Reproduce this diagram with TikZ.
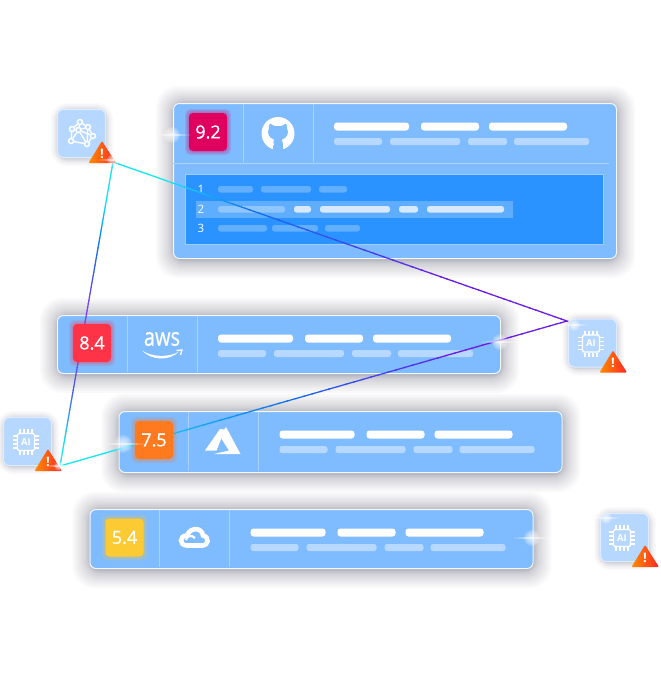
\documentclass[tikz,border=0pt]{standalone}
\usepackage{fontspec}
\setmainfont{Open Sans}
\newfontfamily\scorefont[FakeBold=0.8]{Open Sans}
\usepackage{tikz}
\usetikzlibrary{calc}

\definecolor{cardblue}{HTML}{7FBBFF}
\definecolor{cardline}{HTML}{A9D2FF}
\definecolor{cardedge}{HTML}{F0F7FF}
\definecolor{subpill}{HTML}{B7D8FF}
\definecolor{panelblue}{HTML}{2B93FF}
\definecolor{paneledge}{HTML}{A0CDFF}
\definecolor{panelrow}{HTML}{5EADFF}
\definecolor{panelpill}{HTML}{62AFFF}
\definecolor{rowpill}{HTML}{8FC6FF}
\definecolor{rowbright}{HTML}{D6E9FF}
\definecolor{tileblue}{HTML}{B6D7FF}
\definecolor{tileedge}{HTML}{DDEDFF}
\definecolor{shadowink}{HTML}{3A3A55}
\definecolor{beamcyan}{HTML}{16E6F2}
\definecolor{beamblue}{HTML}{0F70F0}
\definecolor{beamviolet}{HTML}{6A1BE6}
\definecolor{beamlilac}{HTML}{8A3CF0}
\definecolor{beamindigo}{HTML}{4E5CE8}
\definecolor{scorepink}{HTML}{E0005F}
\definecolor{scorered}{HTML}{FF3347}
\definecolor{scoreorange}{HTML}{FF7A1F}
\definecolor{scoreyellow}{HTML}{FCCB33}

\newcommand{\softshadow}[6]{%
    \foreach \k in {1,...,#5}
    {
        \fill[shadowink, opacity=#6, rounded corners=6+\k]
        (#1-0.07*\k*\k+1,#2-0.07*\k*\k+1) rectangle (#3+0.07*\k*\k+1,#4+0.07*\k*\k+2);
    }
}
\newcommand{\gradseg}[4]{%
    \foreach \s in {0,...,19}
    {
        \pgfmathtruncatemacro\mixval{100-5*\s}
        \draw[beam, color=#3!\mixval!#4]
        ($(#1)!\s/20!(#2)$) -- ($(#1)!\s/20+0.06!(#2)$);
    }
}
\newcommand{\sparkle}[3]{%
    \foreach \k in {1,...,7}
    {
        \fill[white, opacity=0.17] (#1,#2) circle ({#3*\k/7});
    }
    \foreach \k in {1,...,4}
    {
        \fill[white, opacity=0.3] (#1,#2) ellipse ({#3*0.6*\k} and 0.7);
    }
}

\begin{document}
\begin{tikzpicture}[x=1pt, y=-1pt]
    \tikzstyle{beam}=[line width=1.25pt]
    \tikzstyle{cardbox}=[draw=cardedge, line width=1pt, fill=cardblue,
            rounded corners=6pt, inner sep=0pt]
    \tikzstyle{scorebox}=[rounded corners=4pt, inner sep=0pt, minimum size=38pt,
            text=white, font=\fontsize{18}{18}\scorefont]
    \tikzstyle{tilebox}=[draw=tileedge, line width=1pt, fill=tileblue,
            rounded corners=6pt, inner sep=0pt, minimum size=48pt]
    \tikzstyle{netdot}=[circle, draw=white, fill=tileblue, line width=1.5pt,
            minimum size=5pt, inner sep=0pt]

    \useasboundingbox (0,0) rectangle (661,675);
    \fill[white] (0,0) rectangle (661,675);

    % cards
    \foreach \n/\x/\y/\w/\h/\d in {git/173/103/443/155/60, aws/57/315/443/58/58,
        azure/118.5/411/443/61/61, gcp/89.5/509/443/59/59}
    {
        \softshadow{\x}{\y}{\x+\w}{\y+\h}{16}{0.027}
        \node[cardbox, minimum width=\w pt, minimum height=\h pt, anchor=north west]
        (card\n) at (\x,\y) {};
        \draw[cardline] (\x+70,\y+1) -- (\x+70,\y+\d-1);
        \draw[cardline] (\x+140,\y+1) -- (\x+140,\y+\d-1);
        \foreach \a/\b in {161/236, 248/306, 316/394}
        {
            \fill[white, rounded corners=3pt] (\x+\a,\y+19.5) rectangle (\x+\b,\y+27.5);
        }
        \foreach \a/\b in {161/209, 217/287, 295/334, 341/416}
        {
            \fill[subpill, rounded corners=2.5pt] (\x+\a,\y+35) rectangle (\x+\b,\y+42);
        }
    }

    % code panel of the first card
    \draw[cardline] (cardgit.north west |- 0,163) -- (609,163);
    \node[draw=paneledge, fill=panelblue, line width=1pt, minimum width=418pt,
        minimum height=70pt, inner sep=0pt, anchor=north west] (panel) at (185,174) {};
    \fill[panelrow] (196,201) rectangle (513,218);
    \foreach \t/\yy in {1/189, 2/209, 3/228}
    {
        \node[text=white, font=\fontsize{11.5}{11.5}\selectfont] (line\t) at (201,\yy) {\t};
    }
    \foreach \a/\b in {218/253, 261/311, 319/347}
    {
        \fill[panelpill, rounded corners=2.5pt] (\a,186) rectangle (\b,192.5);
    }
    \fill[rowpill, rounded corners=2.5pt] (218,206) rectangle (285,212.5);
    \foreach \a/\b in {294/311, 320/390, 399/418, 427/504}
    {
        \fill[rowbright, rounded corners=2.5pt] (\a,206) rectangle (\b,212.5);
    }
    \foreach \a/\b in {218/267, 272/318, 325/360}
    {
        \fill[panelpill, rounded corners=2.5pt] (\a,225) rectangle (\b,231.5);
    }

    % beams
    \coordinate (peak) at (113,162);
    \coordinate (east) at (567,321);
    \coordinate (west) at (60,466);

    \coordinate (pe0) at ($(peak)!0.12!(east)$);
    \coordinate (pe1) at ($(peak)!0.3!(east)$);
    \coordinate (pe2) at ($(peak)!0.72!(east)$);
    \gradseg{peak}{pe0}{beamcyan}{beamcyan}
    \gradseg{pe0}{pe1}{beamcyan}{beamblue}
    \gradseg{pe1}{pe2}{beamblue}{beamviolet}
    \gradseg{pe2}{east}{beamviolet}{beamviolet}

    \coordinate (ew1) at ($(east)!0.22!(west)$);
    \coordinate (ew2) at ($(east)!0.55!(west)$);
    \coordinate (ew3) at ($(east)!0.88!(west)$);
    \gradseg{east}{ew1}{beamviolet}{beamviolet}
    \gradseg{ew1}{ew2}{beamviolet}{beamblue}
    \gradseg{ew2}{ew3}{beamblue}{beamcyan}
    \gradseg{ew3}{west}{beamcyan}{beamcyan}

    \coordinate (pw0) at ($(peak)!0.12!(west)$);
    \coordinate (pw1) at ($(peak)!0.27!(west)$);
    \coordinate (pw2) at ($(peak)!0.5!(west)$);
    \coordinate (pw3) at ($(peak)!0.75!(west)$);
    \coordinate (pw4) at ($(peak)!0.93!(west)$);
    \gradseg{peak}{pw0}{beamcyan}{beamcyan}
    \gradseg{pw0}{pw1}{beamcyan}{beamblue}
    \gradseg{pw1}{pw2}{beamblue}{beamlilac}
    \gradseg{pw2}{pw3}{beamlilac}{beamindigo}
    \gradseg{pw3}{pw4}{beamindigo}{beamcyan}
    \gradseg{pw4}{west}{beamcyan}{beamcyan}

    % score badges
    \foreach \n/\x/\y/\c/\t in {git/208/132/scorepink/9.2, aws/92/343/scorered/8.4,
        azure/154/440/scoreorange/7.5, gcp/124.5/537.5/scoreyellow/5.4}
    {
        \foreach \k in {1,...,4}
        {
            \fill[\c, opacity=0.11, rounded corners=5pt]
            (\x-19-\k,\y-19-\k) rectangle (\x+19+\k,\y+19+\k);
        }
        \node[scorebox, fill=\c] (score\n) at (\x,\y) {\t};
    }

    % logos
    \fill[white] (278,133.5) circle (16.5);
    \fill[cardblue] (270,123.5) .. controls (272,124) and (273,125) .. (274.5,126)
        -- (281.5,126) .. controls (283,125) and (284,124) .. (286,123.5)
        .. controls (287,125) and (287,127) .. (287,128)
        .. controls (289.5,133) and (287,138) .. (282,139.5)
        .. controls (283,142) and (283,145) .. (283,151) -- (273,151)
        .. controls (273,145) and (273,142) .. (274,139.5)
        .. controls (269,138) and (266.5,133) .. (269,128)
        .. controls (269,127) and (269,125) .. (270,123.5) -- cycle;
    \draw[white, line width=1.8pt] (266,140) .. controls (268,140) and (269,144) .. (274,144.5);

    \node[text=white, inner sep=0pt, font=\fontsize{20}{20}\scorefont] (logoaws) at (162,339)
    {\scalebox{1}[1.25]{aws}};
    \fill[white] (142,350.5) .. controls (152,357.5) and (170,357.5) .. (179,351.5)
        .. controls (170,361) and (152,361) .. (142,350.5) -- cycle;
    \draw[white, line width=1.3pt] (176.5,350.5) -- (182,350) -- (180.5,355);

    \fill[white] (220,429) -- (205,450.5) -- (216.5,450.5) -- (225,429.5) -- cycle;
    \fill[white] (226,427) -- (240.5,454) -- (214,454) -- (229,450.5) -- (220,436.5) -- cycle;

    \draw[white, line width=4.6pt]
        (193,545.5) -- (202,545.5)
        .. controls (209,545.5) and (209.5,537) .. (203,535.5)
        .. controls (202,527) and (190,527) .. (187,535.5)
        .. controls (179,535.5) and (179,545.5) .. (187,545.5) -- (193,545.5);
    \draw[white, line width=2.2pt] (186,540) .. controls (187,535) and (192,535) .. (195,538);

    % warning tiles
    \foreach \n/\x/\y in {net/57/109, east/568/318.5, west/3/417, far/600/513}
    {
        \softshadow{\x}{\y}{\x+48}{\y+48}{10}{0.022}
        \node[tilebox, anchor=north west] (tile\n) at (\x,\y) {};
    }

    % chips
    \foreach \n/\x/\y in {east/591/343.5, west/26/442, far/622/538}
    {
        \draw[white, line width=1.4pt, rounded corners=1.5pt]
        (\x-8.5,\y-8.5) rectangle (\x+8.5,\y+8.5);
        \foreach \p in {-6,-2,2,6}
        {
            \draw[white, line width=1.3pt] (\x+\p,\y-9) -- (\x+\p,\y-13);
            \draw[white, line width=1.3pt] (\x+\p,\y+9) -- (\x+\p,\y+13);
            \draw[white, line width=1.3pt] (\x-9,\y+\p) -- (\x-13,\y+\p);
            \draw[white, line width=1.3pt] (\x+9,\y+\p) -- (\x+13,\y+\p);
        }
        \node[text=white, inner sep=0pt, font=\fontsize{9.5}{9.5}\selectfont\bfseries]
        (chip\n) at (\x,\y) {AI};
    }

    % network icon
    \foreach \i/\x/\y in {0/80/122, 1/72/129, 2/88/127, 3/93/136, 4/71/141, 5/87/144, 6/78.5/130}
    {
        \node[netdot] (dot\i) at (\x,\y) {};
    }
    \foreach \a/\b in {0/1, 0/2, 0/6, 1/4, 1/6, 2/3, 2/6, 3/5, 4/5, 4/6, 6/5, 2/5, 3/6}
    {
        \draw[white, line width=1.4pt] (dot\a) -- (dot\b);
    }

    % warning signs
    \foreach \n/\x/\y in {net/57/109, east/568/318.5, west/3/417, far/600/513}
    {
        \shade[left color=orange!90!yellow, right color=red!85!white, rounded corners=1pt]
        (\x+45,\y+32) -- (\x+59,\y+54) -- (\x+31.5,\y+54) -- cycle;
        \node[text=white, inner sep=0pt, font=\fontsize{13}{13}\selectfont\bfseries]
        (warn\n) at (\x+45,\y+44.5) {!};
    }

    % glints
    \sparkle{172}{135}{8}
    \sparkle{500}{342}{8}
    \sparkle{123}{444}{9}
    \sparkle{532}{538}{8}
    \sparkle{113}{160}{6}
    \sparkle{59}{466}{5}
    \sparkle{574}{325}{6}
    \sparkle{606}{518}{6}
\end{tikzpicture}
\end{document}
